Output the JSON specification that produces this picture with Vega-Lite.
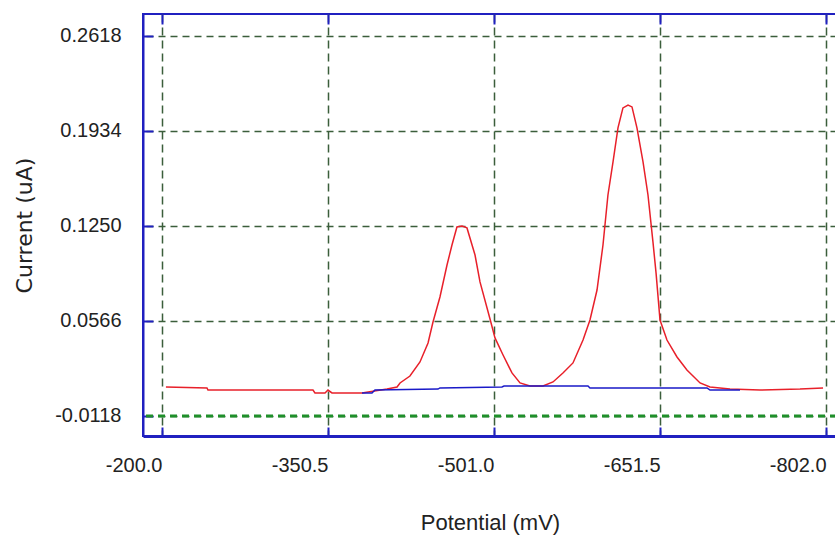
{
  "$schema": "https://vega.github.io/schema/vega-lite/v6.json",
  "width": 694,
  "height": 422,
  "autosize": {"type": "none"},
  "padding": {"left": 143, "top": 14, "right": 0, "bottom": 102},
  "background": "white",
  "config": {
    "view": {"stroke": "#2020c0", "strokeWidth": 2},
    "font": "Liberation Sans"
  },
  "datasets": {
    "red": [
      {"mV": -203.6, "uA": 0.0091}, {"mV": -240.8, "uA": 0.0084}, {"mV": -241.7, "uA": 0.0069},
      {"mV": -336.9, "uA": 0.0069}, {"mV": -338.7, "uA": 0.0048}, {"mV": -347.8, "uA": 0.0048},
      {"mV": -350.5, "uA": 0.0069}, {"mV": -354.1, "uA": 0.0048}, {"mV": -381.3, "uA": 0.0048},
      {"mV": -404.0, "uA": 0.0076}, {"mV": -413.1, "uA": 0.0091}, {"mV": -415.8, "uA": 0.0120},
      {"mV": -424.8, "uA": 0.0170}, {"mV": -433.9, "uA": 0.0271}, {"mV": -441.2, "uA": 0.0408},
      {"mV": -445.7, "uA": 0.0559}, {"mV": -452.0, "uA": 0.0739}, {"mV": -458.4, "uA": 0.0969},
      {"mV": -462.9, "uA": 0.1113}, {"mV": -467.4, "uA": 0.1243}, {"mV": -472.0, "uA": 0.1250},
      {"mV": -476.5, "uA": 0.1236}, {"mV": -483.8, "uA": 0.1041}, {"mV": -488.3, "uA": 0.0847},
      {"mV": -497.4, "uA": 0.0580}, {"mV": -501.9, "uA": 0.0444}, {"mV": -509.2, "uA": 0.0321},
      {"mV": -517.3, "uA": 0.0192}, {"mV": -524.6, "uA": 0.0120}, {"mV": -533.6, "uA": 0.0098},
      {"mV": -545.4, "uA": 0.0098}, {"mV": -554.5, "uA": 0.0127}, {"mV": -563.5, "uA": 0.0192},
      {"mV": -572.6, "uA": 0.0264}, {"mV": -581.7, "uA": 0.0429}, {"mV": -588.0, "uA": 0.0573},
      {"mV": -594.4, "uA": 0.0789}, {"mV": -599.8, "uA": 0.1113}, {"mV": -604.3, "uA": 0.1473},
      {"mV": -608.9, "uA": 0.1711}, {"mV": -613.4, "uA": 0.1956}, {"mV": -617.9, "uA": 0.2100},
      {"mV": -622.5, "uA": 0.2121}, {"mV": -626.1, "uA": 0.2107}, {"mV": -630.6, "uA": 0.1956},
      {"mV": -636.1, "uA": 0.1711}, {"mV": -640.6, "uA": 0.1473}, {"mV": -645.1, "uA": 0.1135},
      {"mV": -647.9, "uA": 0.0912}, {"mV": -651.5, "uA": 0.0573}, {"mV": -657.8, "uA": 0.0429},
      {"mV": -666.9, "uA": 0.0307}, {"mV": -675.9, "uA": 0.0213}, {"mV": -687.8, "uA": 0.0120},
      {"mV": -696.8, "uA": 0.0091}, {"mV": -714.9, "uA": 0.0076}, {"mV": -742.1, "uA": 0.0069},
      {"mV": -778.4, "uA": 0.0076}, {"mV": -799.3, "uA": 0.0084}
    ],
    "blue": [
      {"mV": -381.3, "uA": 0.0048}, {"mV": -390.4, "uA": 0.0048}, {"mV": -393.1, "uA": 0.0069},
      {"mV": -450.2, "uA": 0.0076}, {"mV": -452.0, "uA": 0.0084}, {"mV": -508.2, "uA": 0.0091},
      {"mV": -510.1, "uA": 0.0098}, {"mV": -586.2, "uA": 0.0098}, {"mV": -588.0, "uA": 0.0084},
      {"mV": -694.1, "uA": 0.0084}, {"mV": -696.8, "uA": 0.0069}, {"mV": -724.0, "uA": 0.0069}
    ]
  },
  "encoding": {
    "y": {
      "field": "uA", "type": "quantitative",
      "scale": {"domain": [-0.0262, 0.2776], "nice": false, "zero": false},
      "axis": {
        "orient": "left",
        "values": [-0.0118, 0.0566, 0.125, 0.1934, 0.2618],
        "labelExpr": "replace(format(datum.value, '.4f'), '\u2212', '-')",
        "labelFontSize": 20,
        "labelColor": "#222222",
        "labelPadding": 32,
        "domainColor": "#2020c0",
        "domainWidth": 2,
        "tickColor": "#2020c0",
        "tickWidth": 2,
        "tickSize": -10,
        "grid": true,
        "gridColor": "#3b5e3b",
        "gridWidth": 1.5,
        "gridDash": [7, 5],
        "title": "Current (uA)",
        "titleFont": "DejaVu Sans",
        "titleFontSize": 22,
        "titleFontWeight": "normal",
        "titleColor": "#222222",
        "titlePadding": 18
      }
    }
  },
  "layer": [
    {
      "data": {"name": "red"},
      "mark": {"type": "line", "color": "#e8202a", "strokeWidth": 1.5},
      "encoding": {
        "x": {
          "field": "mV", "type": "quantitative",
          "scale": {"domain": [-811.95, -182.8], "reverse": true, "nice": false, "zero": false},
          "axis": {
            "orient": "bottom",
            "values": [-200, -350.5, -501, -651.5, -802],
            "labelExpr": "replace(format(datum.value, '.1f'), '\u2212', '-')",
            "labelAlign": "right",
            "labelBaseline": "top",
            "labelFontSize": 20,
            "labelColor": "#222222",
            "labelPadding": 28,
            "labelFlush": false,
            "labelOverlap": false,
            "domainColor": "#2020c0",
            "domainWidth": 3,
            "tickColor": "#2020c0",
            "tickWidth": 2,
            "tickSize": -9,
            "grid": true,
            "gridColor": "#3b5e3b",
            "gridDash": [8, 5],
            "gridWidth": 1.5,
            "title": "Potential (mV)",
            "titleFontSize": 22,
            "titleFontWeight": "normal",
            "titleColor": "#222222",
            "titlePadding": 37
          }
        }
      }
    },
    {
      "data": {"values": [{"uA": -0.0118}]},
      "mark": {"type": "rule", "color": "#1f8f2a", "strokeWidth": 3, "strokeDash": [7, 5]},
      "encoding": {}
    },
    {
      "data": {"name": "blue"},
      "mark": {"type": "line", "color": "#1a1ac8", "strokeWidth": 1.5},
      "encoding": {
        "x": {
          "field": "mV", "type": "quantitative",
          "scale": {"domain": [-811.95, -182.8], "reverse": true, "nice": false, "zero": false},
          "axis": {
            "orient": "top",
            "values": [-200, -350.5, -501, -651.5, -802],
            "labels": false,
            "grid": false,
            "domain": false,
            "tickColor": "#2020c0",
            "tickWidth": 2,
            "tickSize": -10,
            "title": null
          }
        }
      }
    }
  ]
}
